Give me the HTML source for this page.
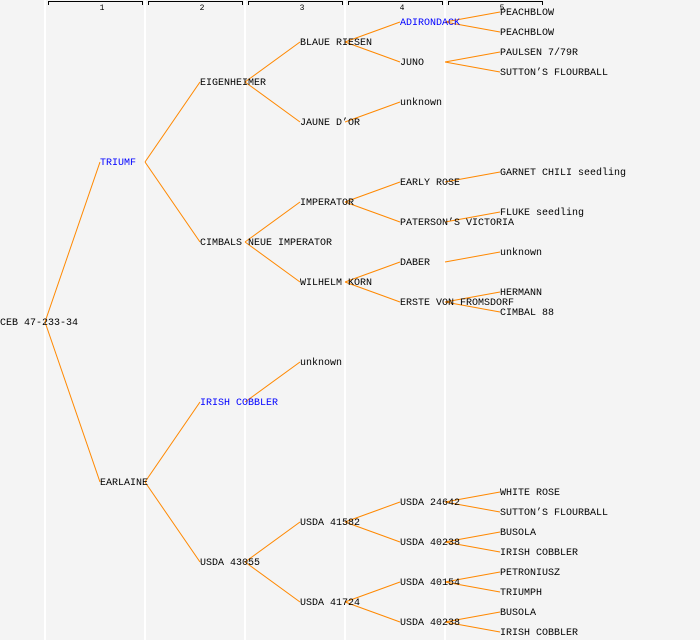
<!DOCTYPE html>
<html><head><style>
body{margin:0;background:#f4f4f4;}
svg{display:block}
text{font-family:"Liberation Mono",monospace;font-size:10px;fill:#000}
.b{fill:#0000ff}
.h{font-size:8px}
line.e{stroke:#ff8800;stroke-width:1}
</style></head><body>
<svg width="700" height="640" xmlns="http://www.w3.org/2000/svg">
<rect width="700" height="640" fill="#f4f4f4"/>
<g stroke="#ffffff" stroke-width="2">
<line x1="45" y1="0" x2="45" y2="640"/><line x1="145" y1="0" x2="145" y2="640"/><line x1="245" y1="0" x2="245" y2="640"/><line x1="345" y1="0" x2="345" y2="640"/><line x1="445" y1="0" x2="445" y2="640"/>
</g>
<g stroke="#000" fill="none" stroke-width="1">
<path d="M48.5,5V1.5H142.5V5"/><path d="M148.5,5V1.5H242.5V5"/><path d="M248.5,5V1.5H342.5V5"/><path d="M348.5,5V1.5H442.5V5"/><path d="M448.5,5V1.5H542.5V5"/>
</g>
<g text-anchor="middle">
<text class="h" x="102" y="10">1</text><text class="h" x="202" y="10">2</text><text class="h" x="302" y="10">3</text><text class="h" x="402" y="10">4</text><text class="h" x="502" y="10">5</text>
</g>
<g>
<line class="e" x1="45" y1="322" x2="100" y2="162"/><line class="e" x1="45" y1="322" x2="100" y2="482"/>
<line class="e" x1="145" y1="162" x2="200" y2="82"/><line class="e" x1="145" y1="162" x2="200" y2="242"/>
<line class="e" x1="145" y1="482" x2="200" y2="402"/><line class="e" x1="145" y1="482" x2="200" y2="562"/>
<line class="e" x1="245" y1="82" x2="300" y2="42"/><line class="e" x1="245" y1="82" x2="300" y2="122"/>
<line class="e" x1="245" y1="242" x2="300" y2="202"/><line class="e" x1="245" y1="242" x2="300" y2="282"/>
<line class="e" x1="245" y1="402" x2="300" y2="362"/>
<line class="e" x1="245" y1="562" x2="300" y2="522"/><line class="e" x1="245" y1="562" x2="300" y2="602"/>
<line class="e" x1="345" y1="42" x2="400" y2="22"/><line class="e" x1="345" y1="42" x2="400" y2="62"/>
<line class="e" x1="345" y1="122" x2="400" y2="102"/>
<line class="e" x1="345" y1="202" x2="400" y2="182"/><line class="e" x1="345" y1="202" x2="400" y2="222"/>
<line class="e" x1="345" y1="282" x2="400" y2="262"/><line class="e" x1="345" y1="282" x2="400" y2="302"/>
<line class="e" x1="345" y1="522" x2="400" y2="502"/><line class="e" x1="345" y1="522" x2="400" y2="542"/>
<line class="e" x1="345" y1="602" x2="400" y2="582"/><line class="e" x1="345" y1="602" x2="400" y2="622"/>
<line class="e" x1="445" y1="22" x2="500" y2="12"/><line class="e" x1="445" y1="22" x2="500" y2="32"/>
<line class="e" x1="445" y1="62" x2="500" y2="52"/><line class="e" x1="445" y1="62" x2="500" y2="72"/>
<line class="e" x1="445" y1="182" x2="500" y2="172"/><line class="e" x1="445" y1="222" x2="500" y2="212"/>
<line class="e" x1="445" y1="262" x2="500" y2="252"/>
<line class="e" x1="445" y1="302" x2="500" y2="292"/><line class="e" x1="445" y1="302" x2="500" y2="312"/>
<line class="e" x1="445" y1="502" x2="500" y2="492"/><line class="e" x1="445" y1="502" x2="500" y2="512"/>
<line class="e" x1="445" y1="542" x2="500" y2="532"/><line class="e" x1="445" y1="542" x2="500" y2="552"/>
<line class="e" x1="445" y1="582" x2="500" y2="572"/><line class="e" x1="445" y1="582" x2="500" y2="592"/>
<line class="e" x1="445" y1="622" x2="500" y2="612"/><line class="e" x1="445" y1="622" x2="500" y2="632"/>
</g>
<g transform="translate(0,-1)">
<text x="0" y="326">CEB 47-233-34</text>
<text class="b" x="100" y="166">TRIUMF</text>
<text x="100" y="486">EARLAINE</text>
<text x="200" y="86">EIGENHEIMER</text>
<text x="200" y="246">CIMBALS NEUE IMPERATOR</text>
<text class="b" x="200" y="406">IRISH COBBLER</text>
<text x="200" y="566">USDA 43055</text>
<text x="300" y="46">BLAUE RIESEN</text>
<text x="300" y="126">JAUNE D’OR</text>
<text x="300" y="206">IMPERATOR</text>
<text x="300" y="286">WILHELM KORN</text>
<text x="300" y="366">unknown</text>
<text x="300" y="526">USDA 41582</text>
<text x="300" y="606">USDA 41724</text>
<text class="b" x="400" y="26">ADIRONDACK</text>
<text x="400" y="66">JUNO</text>
<text x="400" y="106">unknown</text>
<text x="400" y="186">EARLY ROSE</text>
<text x="400" y="226">PATERSON’S VICTORIA</text>
<text x="400" y="266">DABER</text>
<text x="400" y="306">ERSTE VON FROMSDORF</text>
<text x="400" y="506">USDA 24642</text>
<text x="400" y="546">USDA 40238</text>
<text x="400" y="586">USDA 40154</text>
<text x="400" y="626">USDA 40238</text>
<text x="500" y="16">PEACHBLOW</text>
<text x="500" y="36">PEACHBLOW</text>
<text x="500" y="56">PAULSEN 7/79R</text>
<text x="500" y="76">SUTTON’S FLOURBALL</text>
<text x="500" y="176">GARNET CHILI seedling</text>
<text x="500" y="216">FLUKE seedling</text>
<text x="500" y="256">unknown</text>
<text x="500" y="296">HERMANN</text>
<text x="500" y="316">CIMBAL 88</text>
<text x="500" y="496">WHITE ROSE</text>
<text x="500" y="516">SUTTON’S FLOURBALL</text>
<text x="500" y="536">BUSOLA</text>
<text x="500" y="556">IRISH COBBLER</text>
<text x="500" y="576">PETRONIUSZ</text>
<text x="500" y="596">TRIUMPH</text>
<text x="500" y="616">BUSOLA</text>
<text x="500" y="636">IRISH COBBLER</text>
</g>
</svg>
</body></html>
